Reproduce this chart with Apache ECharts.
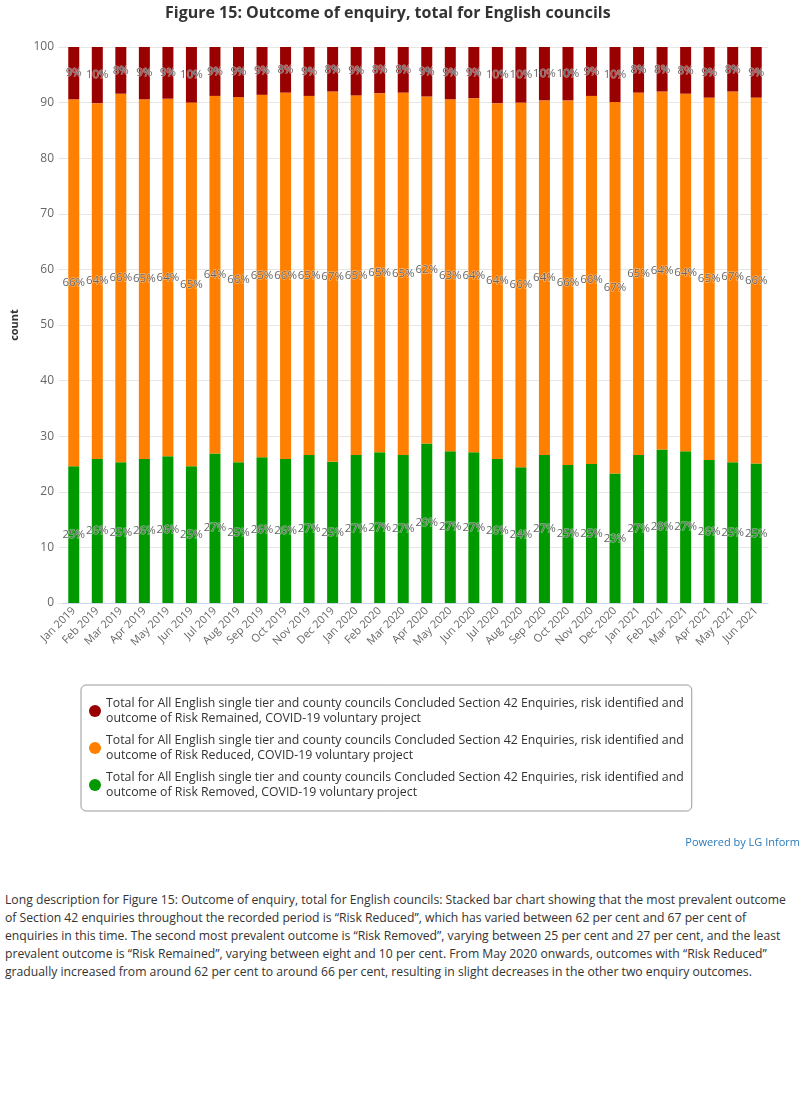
<!DOCTYPE html>
<html>
<head>
<meta charset="utf-8">
<script src="https://cdn.jsdelivr.net/npm/echarts@6.0.0/dist/echarts.min.js"></script>
<style>
  html, body { margin: 0; padding: 0; background: #fff; }
  #chart { width: 800px; height: 891px; }
  #desc {
    margin: 0;
    padding: 0 5px;
    font-family: "Open Sans", sans-serif;
    font-size: 12.2px;
    line-height: 18px;
    color: #333;
  }
</style>
</head>
<body>
<div id="chart"></div>
<p id="desc">Long description for Figure 15: Outcome of enquiry, total for English councils: Stacked bar chart showing that the most prevalent outcome of Section 42 enquiries throughout the recorded period is “Risk Reduced”, which has varied between 62 per cent and 67 per cent of enquiries in this time. The second most prevalent outcome is “Risk Removed”, varying between 25 per cent and 27 per cent, and the least prevalent outcome is “Risk Remained”, varying between eight and 10 per cent. From May 2020 onwards, outcomes with “Risk Reduced” gradually increased from around 62 per cent to around 66 per cent, resulting in slight decreases in the other two enquiry outcomes.</p>
<script>
const MONTHS = [
  "Jan 2019", "Feb 2019", "Mar 2019", "Apr 2019", "May 2019", "Jun 2019",
  "Jul 2019", "Aug 2019", "Sep 2019", "Oct 2019", "Nov 2019", "Dec 2019",
  "Jan 2020", "Feb 2020", "Mar 2020", "Apr 2020", "May 2020", "Jun 2020",
  "Jul 2020", "Aug 2020", "Sep 2020", "Oct 2020", "Nov 2020", "Dec 2020",
  "Jan 2021", "Feb 2021", "Mar 2021", "Apr 2021", "May 2021", "Jun 2021",
];

// percentage share of each outcome per month
const RISK_REMOVED = [
  24.6, 25.9, 25.3, 25.9, 26.4, 24.6, 26.9, 25.3, 26.2, 25.9, 26.6, 25.4,
  26.6, 27.1, 26.6, 28.7, 27.3, 27.1, 25.9, 24.4, 26.6, 24.8, 25.0, 23.3,
  26.6, 27.6, 27.3, 25.7, 25.3, 25.1,
];
const RISK_REDUCED = [
  66.0, 64.0, 66.3, 64.7, 64.3, 65.4, 64.3, 65.7, 65.2, 65.9, 64.6, 66.6,
  64.7, 64.6, 65.2, 62.4, 63.3, 63.7, 64.0, 65.6, 63.8, 65.6, 66.2, 66.8,
  65.2, 64.4, 64.3, 65.2, 66.7, 65.8,
];
const RISK_REMAINED = [
  9.4, 10.1, 8.4, 9.4, 9.3, 10.0, 8.8, 9.0, 8.6, 8.2, 8.8, 8.0,
  8.7, 8.3, 8.2, 8.9, 9.4, 9.2, 10.1, 10.0, 9.6, 9.6, 8.8, 9.9,
  8.2, 8.0, 8.4, 9.1, 8.0, 9.1,
];
const Y_TICKS = { min: 0, max: 100, interval: 10 };

const NAME_PREFIX = "Total for All English single tier and county councils Concluded Section 42 Enquiries, risk identified and outcome of ";
const SERIES_NAMES = [
  NAME_PREFIX + "Risk Remained, COVID-19 voluntary project",
  NAME_PREFIX + "Risk Reduced, COVID-19 voluntary project",
  NAME_PREFIX + "Risk Removed, COVID-19 voluntary project",
];
const COLORS = ["#990000", "#ff8000", "#009900"];

const FONT = '"Open Sans", sans-serif';

const chart = echarts.init(document.getElementById("chart"), null, { renderer: "canvas" });

const barLabel = {
  show: true,
  position: "inside",
  formatter: (p) => Math.round(p.value) + "%",
  fontFamily: FONT,
  fontSize: 11.5,
  color: "#666",
  textBorderColor: "rgba(255,255,255,0.55)",
  textBorderWidth: 1,
};

function barSeries(name, data, color) {
  return {
    name,
    type: "bar",
    stack: "total",
    data,
    barWidth: 11,
    itemStyle: { color },
    label: barLabel,
    emphasis: { disabled: true },
  };
}

chart.setOption({
  animation: false,
  textStyle: { fontFamily: FONT },
  title: [
    {
      text: "Figure 15: Outcome of enquiry, total for English councils",
      left: 160,
      top: 0,
      textStyle: { fontFamily: FONT, fontSize: 16, fontWeight: "bold", color: "#333" },
    },
    {
      text: "Powered by LG Inform",
      right: -5,
      top: 832,
      textStyle: { fontFamily: FONT, fontSize: 11, fontWeight: "normal", color: "#2a7ab9" },
    },
  ],
  grid: { left: 62, right: 32, top: 47, height: 556 },
  legend: {
    orient: "vertical",
    left: 81,
    top: 685,
    data: SERIES_NAMES,
    icon: "circle",
    itemWidth: 12,
    itemHeight: 12,
    itemGap: 7,
    padding: [11, 8, 11, 8],
    borderColor: "#999",
    borderWidth: 1,
    borderRadius: 5,
    formatter: (name) => name.replace(" and outcome", " and\noutcome"),
    textStyle: { fontFamily: FONT, fontSize: 12.3, color: "#333", lineHeight: 15 },
  },
  xAxis: {
    type: "category",
    data: MONTHS,
    axisLine: { lineStyle: { color: "#ccd6eb" } },
    axisTick: { show: false },
    axisLabel: { rotate: 45, fontSize: 11, color: "#666", fontFamily: FONT, margin: 6 },
  },
  yAxis: {
    type: "value",
    min: Y_TICKS.min,
    max: Y_TICKS.max,
    interval: Y_TICKS.interval,
    name: "count",
    nameLocation: "middle",
    nameRotate: 90,
    nameGap: 42,
    nameTextStyle: { fontFamily: FONT, fontSize: 11, fontWeight: "bold", color: "#333" },
    axisLine: { show: false },
    axisTick: { show: true, length: 4, lineStyle: { color: "#e6e6e6" } },
    axisLabel: { fontSize: 12, color: "#666", fontFamily: FONT, margin: 8 },
    splitLine: { lineStyle: { color: "#e6e6e6" } },
  },
  series: [
    barSeries(SERIES_NAMES[2], RISK_REMOVED, COLORS[2]),
    barSeries(SERIES_NAMES[1], RISK_REDUCED, COLORS[1]),
    barSeries(SERIES_NAMES[0], RISK_REMAINED, COLORS[0]),
  ],
});
</script>
</body>
</html>
